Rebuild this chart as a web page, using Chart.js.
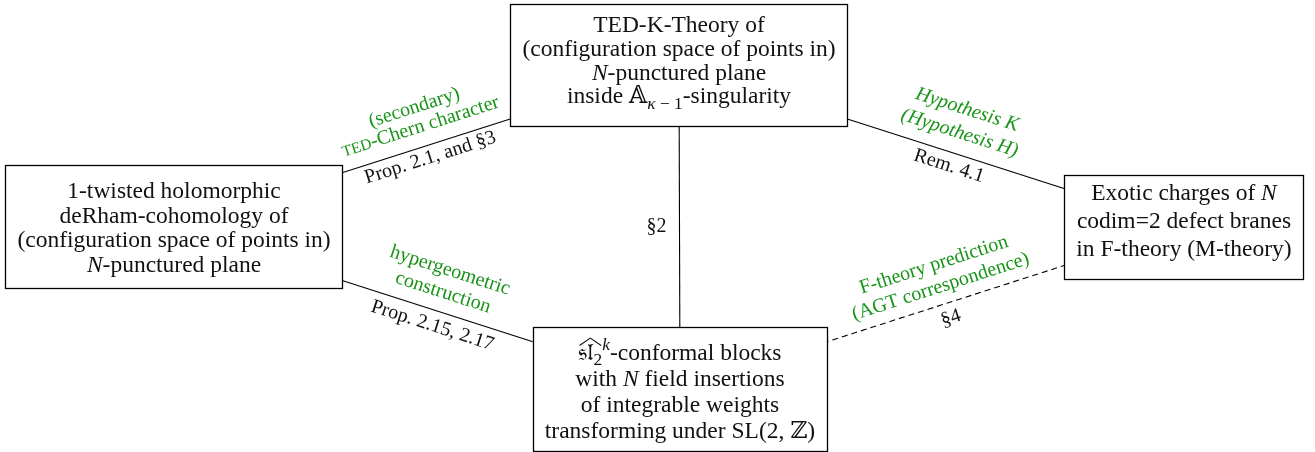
<!DOCTYPE html>
<html>
<head>
<meta charset="utf-8">
<script src="https://cdn.jsdelivr.net/npm/chart.js@4.4.1/dist/chart.umd.min.js"></script>
<style>
  html, body { margin: 0; padding: 0; background: #fff; }
  #wrap { width: 1315px; height: 452px; position: relative; }
</style>
</head>
<body>
<div id="wrap"><canvas id="diagram"></canvas></div>
<script>
// --- data ---
// node centres (diagram units, same as page pixels)
const nodeX = [679, 174, 1184, 680];
const nodeY = [65, 226.5, 227, 389];

// node texts, mini markup: *..* italic, _{..} sub, ^{..} sup, ~{..} small caps, !{..} wide hat
const nodeText = [
  ['TED-K-Theory of', '(configuration space of points in)', '*N*-punctured plane', 'inside 𝔸_{*κ* − 1}-singularity'],
  ['1-twisted holomorphic', 'deRham-cohomology of', '(configuration space of points in)', '*N*-punctured plane'],
  ['Exotic charges of *N*', 'codim=2 defect branes', 'in F-theory (M-theory)'],
  ['!{𝔰𝔩_{2}}^{*k*}-conformal blocks', 'with *N* field insertions', 'of integrable weights', 'transforming under SL(2, ℤ)']
];

// edges
const edgeFrom = [1, 0, 1, 3, 0];
const edgeTo = [0, 2, 3, 2, 3];
const edgeGreen = [
  ['(secondary)', '~{TED}-Chern character'],
  ['*Hypothesis K*', '*(Hypothesis H)*'],
  ['hypergeometric', 'construction'],
  ['F-theory prediction', '(AGT correspondence)'],
  []
];
const edgeBlack = ['Prop. 2.1, and §3', 'Rem. 4.1', 'Prop. 2.15, 2.17', '§4', '§2'];

// --- styles / layout ---
const FONT = '"Liberation Serif", "DejaVu Serif", "DejaVu Sans", serif';
const NODE_FS = 23.5;
const LABEL_FS = 20;
const GREEN = 'rgb(24,148,24)';
const boxStyle = [
  { h: 122, base: 28, lead: 23.8 },
  { h: 123, base: 33, lead: 24.7 },
  { h: 104, base: 25, lead: 28 },
  { h: 124, base: 33, lead: 26 }
];
const edgeStyle = [
  { t: 0.5, green: [40, 20], black: -12.5, rotate: true, dashed: false },
  { t: 0.543, green: [45.5, 21], black: -13.7, rotate: true, dashed: false },
  { t: 0.52, green: [42.5, 19.5], black: -15.3, rotate: true, dashed: false },
  { t: 0.528, green: [40.4, 17.6], black: -15.5, rotate: true, dashed: true },
  { t: 0.5, green: [], black: -23, rotate: false, dashed: false }
];

// --- rich text helpers ---
function parseRich(s, base) {
  base = base || { it: false, sub: false, sup: false, sc: false, hat: false };
  const runs = [];
  let it = base.it, buf = '';
  const flush = () => {
    if (buf) runs.push({ t: buf, it: it, sub: base.sub, sup: base.sup, sc: base.sc, hat: base.hat });
    buf = '';
  };
  for (let i = 0; i < s.length; i++) {
    const c = s[i];
    if (c === '*') { flush(); it = !it; continue; }
    if ('_^~!'.includes(c) && s[i + 1] === '{') {
      flush();
      let depth = 0, j = i + 1;
      for (; j < s.length; j++) {
        if (s[j] === '{') depth++;
        else if (s[j] === '}' && --depth === 0) break;
      }
      const nb = Object.assign({}, base, { it: it });
      if (c === '_') nb.sub = true;
      if (c === '^') nb.sup = true;
      if (c === '~') nb.sc = true;
      if (c === '!') nb.hat = true;
      runs.push(...parseRich(s.slice(i + 2, j), nb));
      i = j;
      continue;
    }
    buf += c;
  }
  flush();
  return runs;
}

function measureRuns(ctx, runs, fs) {
  let w = 0;
  runs.forEach(r => {
    r.size = (r.sub || r.sup) ? fs * 0.74 : (r.sc ? fs * 0.78 : fs);
    r.font = (r.it ? 'italic ' : '') + r.size + 'px ' + FONT;
    r.txt = r.sc ? r.t.toUpperCase() : r.t;
    ctx.font = r.font;
    r.w = ctx.measureText(r.txt).width;
    w += r.w;
  });
  return w;
}

function drawRuns(ctx, runs, fs, cx, baseY, color) {
  const total = measureRuns(ctx, runs, fs);
  let x = cx - total / 2;
  let hx0 = null, hx1 = null;
  ctx.fillStyle = color;
  ctx.textAlign = 'left';
  ctx.textBaseline = 'alphabetic';
  runs.forEach(r => {
    ctx.font = r.font;
    let y = baseY;
    if (r.sub) y += fs * 0.22;
    if (r.sup) y -= fs * 0.42;
    ctx.fillText(r.txt, x, y);
    if (r.hat) { if (hx0 === null) hx0 = x; hx1 = x + r.w; }
    x += r.w;
  });
  if (hx0 !== null) {
    ctx.strokeStyle = color;
    ctx.lineWidth = 1.1;
    ctx.beginPath();
    ctx.moveTo(hx0 + 1, baseY - fs * 0.62);
    ctx.lineTo((hx0 + hx1) / 2, baseY - fs * 0.93);
    ctx.lineTo(hx1 - 1, baseY - fs * 0.62);
    ctx.stroke();
  }
}

// --- diagram plugin: boxes over the edge lines, then all texts ---
const diagramPlugin = {
  id: 'diagram',
  afterDatasetsDraw(chart) {
    const ctx = chart.ctx;
    const xs = chart.scales.x, ys = chart.scales.y;
    ctx.save();

    // nodes
    nodeText.forEach((lines, i) => {
      const st = boxStyle[i];
      const cx = xs.getPixelForValue(nodeX[i]);
      const cy = ys.getPixelForValue(nodeY[i]);
      const parsed = lines.map(l => parseRich(l));
      const maxW = Math.max(...parsed.map(p => measureRuns(ctx, p, NODE_FS)));
      const w = maxW + 24;
      const top = cy - st.h / 2;
      ctx.fillStyle = '#fff';
      ctx.fillRect(cx - w / 2, top, w, st.h);
      ctx.strokeStyle = '#000';
      ctx.lineWidth = 1.3;
      ctx.strokeRect(Math.round(cx - w / 2) + 0.5, Math.round(top) + 0.5, Math.round(w), Math.round(st.h));
      parsed.forEach((p, k) => drawRuns(ctx, p, NODE_FS, cx, top + st.base + k * st.lead, '#111'));
    });

    // edge labels
    edgeFrom.forEach((a, i) => {
      const b = edgeTo[i], st = edgeStyle[i];
      const ax = xs.getPixelForValue(nodeX[a]), ay = ys.getPixelForValue(nodeY[a]);
      const bx = xs.getPixelForValue(nodeX[b]), by = ys.getPixelForValue(nodeY[b]);
      const dx = bx - ax, dy = by - ay, len = Math.hypot(dx, dy);
      const ux = dx / len, uy = dy / len;
      ctx.save();
      ctx.translate(ax + dx * st.t, ay + dy * st.t);
      if (st.rotate) ctx.rotate(Math.atan2(dy, dx));
      const place = off => st.rotate ? [0, -off] : [uy * off, -ux * off];
      edgeGreen[i].forEach((s, k) => {
        const [lx, ly] = place(st.green[k]);
        drawRuns(ctx, parseRich(s), LABEL_FS, lx, ly + LABEL_FS * 0.27, GREEN);
      });
      if (edgeBlack[i]) {
        const [lx, ly] = place(st.black);
        drawRuns(ctx, parseRich(edgeBlack[i]), LABEL_FS, lx, ly + LABEL_FS * 0.27, '#111');
      }
      ctx.restore();
    });

    ctx.restore();
  }
};

// --- chart ---
const edgeDatasets = edgeFrom.map((a, i) => ({
  data: [{ x: nodeX[a], y: nodeY[a] }, { x: nodeX[edgeTo[i]], y: nodeY[edgeTo[i]] }],
  showLine: true,
  borderColor: '#000',
  borderWidth: 1.1,
  borderDash: edgeStyle[i].dashed ? [6, 4] : [],
  pointRadius: 0,
  pointHoverRadius: 0
}));

new Chart(document.getElementById('diagram').getContext('2d'), {
  type: 'scatter',
  data: { datasets: edgeDatasets },
  options: {
    responsive: true,
    maintainAspectRatio: false,
    animation: false,
    layout: { padding: 0 },
    plugins: { legend: { display: false }, tooltip: { enabled: false } },
    events: [],
    scales: {
      x: { type: 'linear', min: 0, max: 1315, display: false },
      y: { type: 'linear', min: 0, max: 452, reverse: true, display: false }
    }
  },
  plugins: [diagramPlugin]
});
</script>
</body>
</html>
